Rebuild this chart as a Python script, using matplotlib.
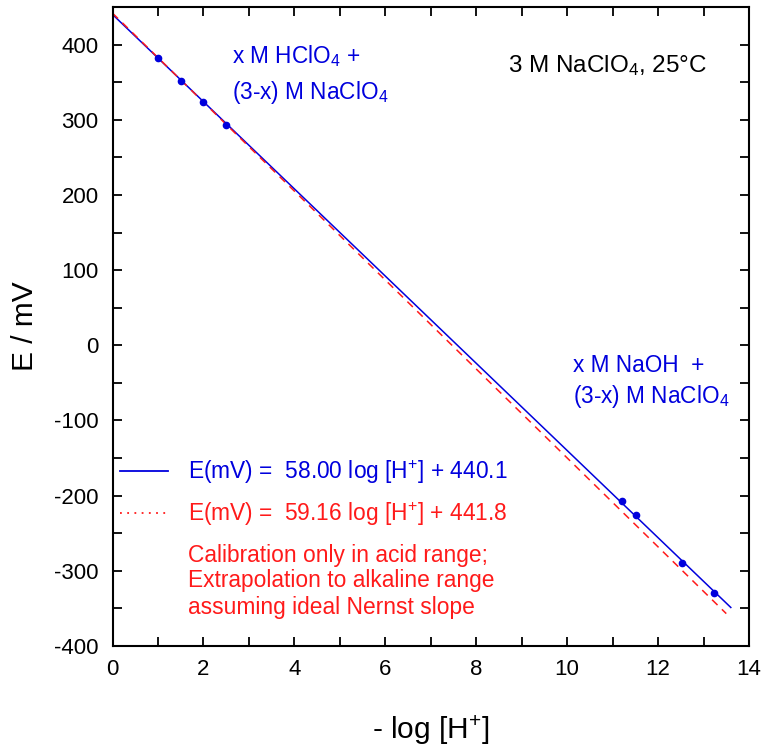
import numpy as np
import matplotlib
matplotlib.use('Agg')
import matplotlib.pyplot as plt
from matplotlib.lines import Line2D
from matplotlib.ticker import MultipleLocator

# measured points
ph_acid = [1.0, 1.5, 2.0, 2.5]
e_acid = [382, 352, 323, 293]
ph_alk = [11.21, 11.52, 12.53, 13.23]
e_alk = [-207, -226, -289, -330]

# fit lines
slope_fit, icpt_fit = 58.00, 440.1
slope_nernst, icpt_nernst = 59.16, 441.8
ph_fit_max = 13.6
ph_nernst_max = 13.5

blue = '#0000dd'
red = '#ff1a1a'

plt.rcParams.update({'font.family': ['Liberation Sans', 'DejaVu Sans'],
                     'mathtext.fontset': 'custom',
                     'mathtext.rm': 'Liberation Sans',
                     'mathtext.it': 'Liberation Sans',
                     'mathtext.default': 'regular',
                     'axes.unicode_minus': False,
                     'font.size': 16})

fig = plt.figure(figsize=(7.66, 7.46), dpi=100)
ax = fig.add_axes([0.1469, 0.134, 0.8309, 0.8566])

x1 = np.linspace(0, ph_fit_max, 50)
ax.plot(x1, icpt_fit - slope_fit * x1, color=blue, lw=1.1)
x2 = np.linspace(0, ph_nernst_max, 50)
ax.plot(x2, icpt_nernst - slope_nernst * x2, color=red, lw=1.1, ls=(0, (5, 4)))
ax.plot(ph_acid, e_acid, 'o', color=blue, ms=4.5)
ax.plot(ph_alk, e_alk, 'o', color=blue, ms=4.5)

ax.set_xlim(0, 14)
ax.set_ylim(-400, 450)
ax.xaxis.set_major_locator(MultipleLocator(2))
ax.xaxis.set_minor_locator(MultipleLocator(1))
ax.yaxis.set_major_locator(MultipleLocator(100))
ax.yaxis.set_minor_locator(MultipleLocator(50))
ax.tick_params(which='both', direction='in', top=True, right=True,
               length=6.5, width=1.3, labelsize=16)
ax.tick_params(axis='x', pad=9)
ax.tick_params(axis='y', pad=10)
for s in ax.spines.values():
    s.set_linewidth(1.5)

ax.set_xlabel('- log [H$^{+}$]', fontsize=21.5, labelpad=24)
ax.set_ylabel('E / mV', fontsize=21.5, labelpad=10.5)

ax.text(2.63, 376, 'x M HClO$_4$ +', color=blue, fontsize=16.3)
ax.text(2.63, 327, '(3-x) M NaClO$_4$', color=blue, fontsize=16.3)
ax.text(8.70, 364, '3 M NaClO$_4$, 25°C', color='black', fontsize=17.5)
ax.text(10.13, -35, 'x M NaOH  +', color=blue, fontsize=16.3)
ax.text(10.13, -77, '(3-x) M NaClO$_4$', color=blue, fontsize=16.3)

handles = [Line2D([], [], color=blue, lw=1.3),
           Line2D([], [], color=red, lw=1.3, ls=(0, (1, 3)))]
labels = ['E(mV) =  %.2f log [H$^{+}$] + %.1f' % (slope_fit, icpt_fit),
          'E(mV) =  %.2f log [H$^{+}$] + %.1f' % (slope_nernst, icpt_nernst)]
ax.legend(handles, labels, loc='upper left', bbox_to_anchor=(0.0118, 0.294),
          frameon=False, borderpad=0, borderaxespad=0,
          handlelength=2.1, handletextpad=0.88,
          labelspacing=0.6, labelcolor='linecolor', fontsize=16.4)

ax.text(1.66, -288, 'Calibration only in acid range;', color=red, fontsize=16.4)
ax.text(1.66, -322, 'Extrapolation to alkaline range', color=red, fontsize=16.4)
ax.text(1.66, -357, 'assuming ideal Nernst slope', color=red, fontsize=16.4)

fig.savefig('out.png', dpi=100)
